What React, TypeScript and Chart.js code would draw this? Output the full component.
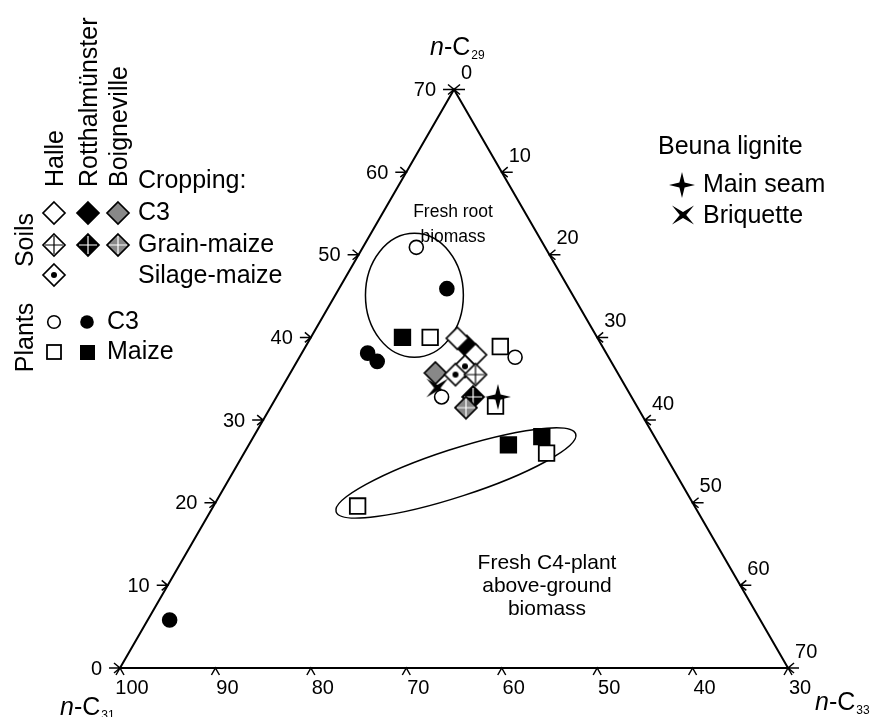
import { useEffect, useRef } from "react";
import { Chart, registerables } from "chart.js";

Chart.register(...registerables);

const FONT = '"Liberation Sans", Arial, Helvetica, sans-serif';

// Compositions as [n-C29 %, n-C33 %]; n-C31 is the remainder to 100 %.
const halleC3Plants = [[50.9, 5.6], [37.6, 22.6], [32.8, 17.3]];
const rothC3Plants = [[5.8, 2.3], [45.9, 11.3], [38.1, 6.9], [37.1, 8.4]];
const halleMaizePlants = [[40.0, 12.5], [38.9, 20.4], [31.7, 23.5], [26.0, 31.7], [19.6, 15.1]];
const rothMaizePlants = [[40.0, 9.6], [27.0, 27.2], [28.0, 30.2]];
const halleC3Soils = [[39.9, 15.4], [37.9, 18.3]];
const rothC3Soils = [[38.9, 16.9]];
const boignC3Soils = [[35.7, 15.2]];
const halleGrainSoils = [[35.5, 19.5]];
const rothGrainSoils = [[32.8, 20.6]];
const boignGrainSoils = [[31.5, 20.5]];
const halleSilageSoils = [[36.5, 17.9], [35.5, 17.4]];
const mainSeam = [[32.8, 23.2]];
const briquette = [[33.9, 16.3]];

// Axis tick values
const c29Ticks = [0, 10, 20, 30, 40, 50, 60, 70];
const c31Ticks = [100, 90, 80, 70, 60, 50, 40, 30];
const c33Ticks = [0, 10, 20, 30, 40, 50, 60, 70];

// Encircled groups: centre [n-C29, n-C33], half-axes in axis units, tilt in degrees
const rootRegion = { c29: 45.1, c33: 8.3, rx: 5.13, ry: 6.5, tilt: 0 };
const c4Region = { c29: 23.6, c33: 23.4, rx: 13.2, ry: 2.5, tilt: -18 };

const H = Math.sqrt(3) / 2;
const X_MIN = -12.575, X_MAX = 78.59, Y_MIN = -5.135, Y_MAX = 70.0;

function tern(c29: number, c33: number) {
  return { x: c33 + c29 / 2, y: c29 * H };
}

function makeCanvas(size: number, draw: (ctx: CanvasRenderingContext2D, c: number) => void) {
  const cv = document.createElement("canvas");
  cv.width = size;
  cv.height = size;
  const ctx = cv.getContext("2d")!;
  draw(ctx, size / 2);
  return cv;
}

function diamond(fill: string, cross?: string, dot?: boolean) {
  return makeCanvas(26, (ctx, c) => {
    const r = 11;
    const path = () => {
      ctx.beginPath();
      ctx.moveTo(c, c - r);
      ctx.lineTo(c + r, c);
      ctx.lineTo(c, c + r);
      ctx.lineTo(c - r, c);
      ctx.closePath();
    };
    path();
    ctx.fillStyle = fill;
    ctx.fill();
    if (cross) {
      ctx.strokeStyle = cross;
      ctx.lineWidth = 1.2;
      ctx.beginPath();
      ctx.moveTo(c, c - r + 2);
      ctx.lineTo(c, c + r - 2);
      ctx.moveTo(c - r + 2, c);
      ctx.lineTo(c + r - 2, c);
      ctx.stroke();
    }
    if (dot) {
      ctx.fillStyle = "#000";
      ctx.beginPath();
      ctx.arc(c, c, 3, 0, Math.PI * 2);
      ctx.fill();
    }
    path();
    ctx.strokeStyle = "#000";
    ctx.lineWidth = 1.7;
    ctx.stroke();
  });
}

function fourStar(pts: number[][]) {
  return makeCanvas(30, (ctx, c) => {
    ctx.beginPath();
    pts.forEach(([x, y], i) => (i ? ctx.lineTo(c + x, c + y) : ctx.moveTo(c + x, c + y)));
    ctx.closePath();
    ctx.fillStyle = "#000";
    ctx.fill();
  });
}

function buildMarkers() {
  return {
    halleC3: diamond("#fff"),
    rothC3: diamond("#000"),
    boignC3: diamond("#888"),
    halleGrain: diamond("#fff", "#000"),
    rothGrain: diamond("#000", "#fff"),
    boignGrain: diamond("#888", "#fff"),
    halleSilage: diamond("#fff", undefined, true),
    seam: fourStar([
      [0, -13], [2.6, -2.6], [13, 0], [2.6, 2.6], [0, 13], [-2.6, 2.6], [-13, 0], [-2.6, -2.6],
    ]),
    briq: fourStar([
      [-11, -9.5], [0, -3], [11, -9.5], [3.2, 0], [11, 9.5], [0, 3], [-11, 9.5], [-3.2, 0],
    ]),
  };
}

type Markers = ReturnType<typeof buildMarkers>;

function pts(list: number[][]) {
  return list.map(([a, c]) => tern(a, c));
}

function buildDatasets(m: Markers) {
  const circle = (fill: string) => ({
    pointStyle: "circle", pointRadius: 7, borderWidth: 1.6, borderColor: "#000", backgroundColor: fill,
  });
  const square = (fill: string) => ({
    pointStyle: "rect", pointRadius: 11, borderWidth: 1.8, borderColor: "#000", backgroundColor: fill,
  });
  const img = (cv: HTMLCanvasElement) => ({ pointStyle: cv, pointRadius: 10 });
  // listed bottom to top
  const list: any[] = [
    { label: "Rotthalmünster C3 plants", data: pts(rothC3Plants), ...circle("#000") },
    { label: "Halle maize plants", data: pts(halleMaizePlants), ...square("#fff") },
    { label: "Rotthalmünster maize plants", data: pts(rothMaizePlants), ...square("#000") },
    { label: "Briquette", data: pts(briquette), ...img(m.briq) },
    { label: "Halle C3 plants", data: pts(halleC3Plants), ...circle("#fff") },
    { label: "Rotthalmünster C3 soil", data: pts(rothC3Soils), ...img(m.rothC3) },
    { label: "Boigneville C3 soil", data: pts(boignC3Soils), ...img(m.boignC3) },
    { label: "Halle C3 soil", data: pts(halleC3Soils), ...img(m.halleC3) },
    { label: "Halle silage-maize soil", data: pts(halleSilageSoils), ...img(m.halleSilage) },
    { label: "Halle grain-maize soil", data: pts(halleGrainSoils), ...img(m.halleGrain) },
    { label: "Rotthalmünster grain-maize soil", data: pts(rothGrainSoils), ...img(m.rothGrain) },
    { label: "Boigneville grain-maize soil", data: pts(boignGrainSoils), ...img(m.boignGrain) },
    { label: "Main seam", data: pts(mainSeam), ...img(m.seam) },
  ];
  return list.map((d, i) => ({ ...d, order: list.length - i }));
}

function subscriptLabel(ctx: CanvasRenderingContext2D, x: number, y: number, sub: string) {
  ctx.textAlign = "left";
  ctx.textBaseline = "alphabetic";
  ctx.font = `italic 25px ${FONT}`;
  ctx.fillText("n", x, y);
  let w = ctx.measureText("n").width;
  ctx.font = `25px ${FONT}`;
  ctx.fillText("-C", x + w, y);
  w += ctx.measureText("-C").width;
  ctx.font = `12px ${FONT}`;
  ctx.fillText(sub, x + w + 1, y + 4);
}

function makePlugin(m: Markers) {
  return {
    id: "ternaryFrame",
    beforeDatasetsDraw(chart: any) {
      const ctx: CanvasRenderingContext2D = chart.ctx;
      const sx = chart.scales.x, sy = chart.scales.y;
      const P = (c29: number, c33: number) => {
        const t = tern(c29, c33);
        return [sx.getPixelForValue(t.x), sy.getPixelForValue(t.y)];
      };
      const unit = sx.getPixelForValue(1) - sx.getPixelForValue(0);
      ctx.save();
      ctx.strokeStyle = "#000";
      ctx.fillStyle = "#000";

      // triangle
      const A = P(0, 0), B = P(0, 70), C = P(70, 0);
      ctx.lineWidth = 2;
      ctx.beginPath();
      ctx.moveTo(A[0], A[1]);
      ctx.lineTo(B[0], B[1]);
      ctx.lineTo(C[0], C[1]);
      ctx.closePath();
      ctx.stroke();

      ctx.lineWidth = 1.5;
      ctx.font = `20px ${FONT}`;
      // n-C29 ticks on the left side
      c29Ticks.forEach((v) => {
        const [x, y] = P(v, 0);
        ctx.beginPath();
        ctx.moveTo(x - 11, y);
        ctx.lineTo(x + 1, y);
        ctx.moveTo(x - 6, y - 5);
        ctx.lineTo(x, y);
        ctx.lineTo(x - 6, y + 5);
        ctx.stroke();
        ctx.textAlign = "right";
        ctx.textBaseline = "middle";
        ctx.fillText(String(v), x - 18, y + 1);
      });
      // n-C33 ticks on the right side
      c33Ticks.forEach((v) => {
        const [x, y] = P(70 - v, v);
        ctx.beginPath();
        ctx.moveTo(x - 1, y);
        ctx.lineTo(x + 11, y);
        ctx.moveTo(x + 6, y - 5);
        ctx.lineTo(x, y);
        ctx.lineTo(x + 6, y + 5);
        ctx.stroke();
        ctx.textAlign = "left";
        ctx.textBaseline = "middle";
        ctx.fillText(String(v), x + 7, y - 16);
      });
      // n-C31 ticks along the base
      c31Ticks.forEach((v) => {
        const [x, y] = P(0, 100 - v);
        ctx.beginPath();
        ctx.moveTo(x - 4, y + 7);
        ctx.lineTo(x, y);
        ctx.lineTo(x + 4, y + 7);
        ctx.stroke();
        ctx.textAlign = "center";
        ctx.textBaseline = "middle";
        ctx.fillText(String(v), x + 12, y + 20);
      });

      // encircled groups
      ctx.lineWidth = 1.5;
      [rootRegion, c4Region].forEach((r) => {
        const [x, y] = P(r.c29, r.c33);
        ctx.beginPath();
        ctx.ellipse(x, y, r.rx * unit, r.ry * unit, (r.tilt * Math.PI) / 180, 0, Math.PI * 2);
        ctx.stroke();
      });
      ctx.restore();
    },
    afterDatasetsDraw(chart: any) {
      const ctx: CanvasRenderingContext2D = chart.ctx;
      ctx.save();
      ctx.fillStyle = "#000";
      ctx.strokeStyle = "#000";

      // axis titles
      subscriptLabel(ctx, 430, 55, "29");
      subscriptLabel(ctx, 815, 710, "33");
      subscriptLabel(ctx, 60, 715, "31");

      // group notes
      ctx.textAlign = "center";
      ctx.textBaseline = "middle";
      ctx.font = `17.5px ${FONT}`;
      ctx.fillText("Fresh root", 453, 212);
      ctx.fillText("biomass", 453, 237);
      ctx.font = `21px ${FONT}`;
      ctx.fillText("Fresh C4-plant", 547, 563);
      ctx.fillText("above-ground", 547, 586);
      ctx.fillText("biomass", 547, 609);

      // key: site names
      ctx.font = `25px ${FONT}`;
      const vtext = (t: string, x: number, y: number) => {
        ctx.save();
        ctx.translate(x, y);
        ctx.rotate(-Math.PI / 2);
        ctx.fillText(t, 0, 0);
        ctx.restore();
      };
      ctx.textBaseline = "alphabetic";
      ctx.textAlign = "left";
      vtext("Halle", 63, 187);
      vtext("Rotthalmünster", 97, 187);
      vtext("Boigneville", 127, 187);
      ctx.textAlign = "center";
      vtext("Soils", 33, 240);
      vtext("Plants", 33, 337.5);

      ctx.textAlign = "left";
      ctx.textBaseline = "middle";
      ctx.fillText("Cropping:", 138, 181);
      ctx.fillText("C3", 138, 213);
      ctx.fillText("Grain-maize", 138, 245);
      ctx.fillText("Silage-maize", 138, 276);
      ctx.fillText("C3", 107, 322);
      ctx.fillText("Maize", 107, 352);
      ctx.fillText("Beuna lignite", 658, 147);
      ctx.fillText("Main seam", 703, 185);
      ctx.fillText("Briquette", 703, 216);

      const put = (cv: HTMLCanvasElement, x: number, y: number) =>
        ctx.drawImage(cv, Math.round(x - cv.width / 2), Math.round(y - cv.height / 2));
      put(m.halleC3, 54, 213);
      put(m.rothC3, 88, 213);
      put(m.boignC3, 118, 213);
      put(m.halleGrain, 54, 245);
      put(m.rothGrain, 88, 245);
      put(m.boignGrain, 118, 245);
      put(m.halleSilage, 54, 275);
      put(m.seam, 682, 185);
      put(m.briq, 683, 215);

      ctx.lineWidth = 1.6;
      ctx.beginPath();
      ctx.arc(54, 322, 6.3, 0, Math.PI * 2);
      ctx.fillStyle = "#fff";
      ctx.fill();
      ctx.stroke();
      ctx.beginPath();
      ctx.arc(87, 322, 6.8, 0, Math.PI * 2);
      ctx.fillStyle = "#000";
      ctx.fill();
      ctx.lineWidth = 1.8;
      ctx.fillStyle = "#fff";
      ctx.fillRect(47, 345, 14, 14);
      ctx.strokeRect(47, 345, 14, 14);
      ctx.fillStyle = "#000";
      ctx.fillRect(80, 345, 15, 15);
      ctx.restore();
    },
  };
}

export default function App() {
  const ref = useRef<HTMLCanvasElement>(null);
  useEffect(() => {
    const canvas = ref.current!;
    const markers = buildMarkers();
    const chart = new Chart(canvas, {
      type: "scatter",
      data: { datasets: buildDatasets(markers) as any },
      options: {
        animation: false,
        responsive: false,
        devicePixelRatio: 1,
        events: [],
        layout: { padding: 0, autoPadding: false },
        plugins: { legend: { display: false }, tooltip: { enabled: false } },
        scales: {
          x: { type: "linear", min: X_MIN, max: X_MAX, display: false },
          y: { type: "linear", min: Y_MIN, max: Y_MAX, display: false },
        },
      },
      plugins: [makePlugin(markers) as any],
    });
    return () => chart.destroy();
  }, []);
  return (
    <div style={{ position: "fixed", left: 0, top: 0, width: 870, height: 717, background: "#fff" }}>
      <canvas ref={ref} width={870} height={717} style={{ display: "block" }} />
    </div>
  );
}
